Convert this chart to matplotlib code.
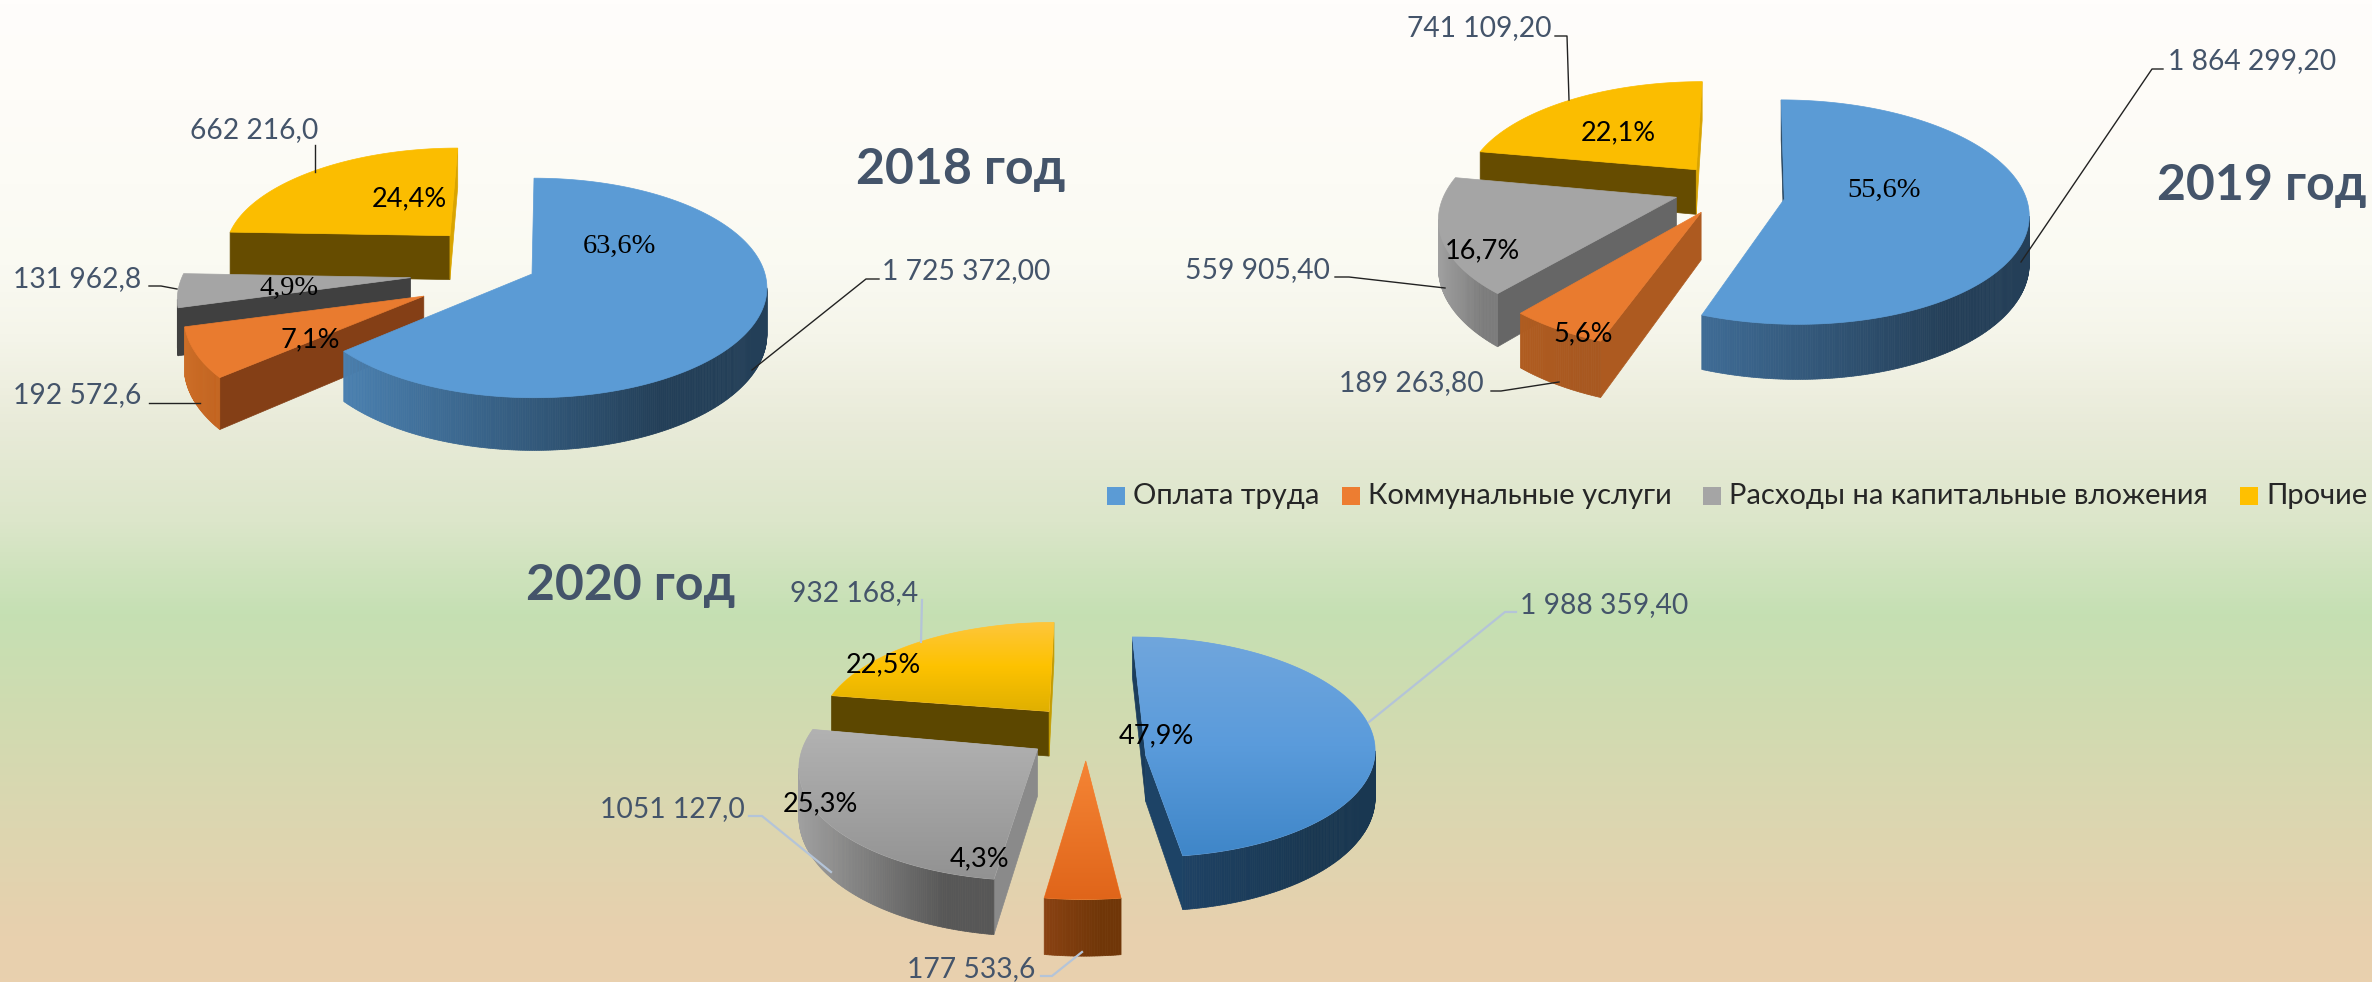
import numpy as np
import matplotlib
matplotlib.use("Agg")
import matplotlib.pyplot as plt
from matplotlib.colors import LinearSegmentedColormap, to_rgb
from matplotlib.patches import Polygon, Rectangle

plt.rcParams['font.family'] = ['Lato', 'DejaVu Sans']

categories = ["Оплата труда", "Коммунальные услуги", "Расходы на капитальные вложения", "Прочие"]

values_2018 = [1725372.0, 192572.6, 131962.8, 662216.0]
values_2019 = [1864299.2, 189263.8, 559905.4, 741109.2]
values_2020 = [1988359.4, 177533.6, 1051127.0, 932168.4]

labels_2018 = ["1 725 372,00", "192 572,6", "131 962,8", "662 216,0"]
labels_2019 = ["1 864 299,20", "189 263,80", "559 905,40", "741 109,20"]
labels_2020 = ["1 988 359,40", "177 533,6", "1051 127,0", "932 168,4"]

TEXT_COL = "#44546a"
LEGEND_COL = ["#5b9bd5", "#ed7d31", "#a5a5a5", "#ffc000"]

# chart layout: centre, radii, perspective, thickness, explosion of each slice
charts = [
    dict(values=values_2018, labels=labels_2018, title="2018 год", title_xy=(961, 169),
         c=(532, 274), a=231, b=108, p=0.127, depth=46, explode=[0, 0.515, 0.525, 0.53],
         nudge=[(2, 0), (3, -6), (4, -3), (-2, 1)],
         apex_nudge=[(-2, 0), (-3, 1), (-4, 0), (1, 0)],
         label_xy=[(966, 271), (77, 395), (77, 279), (254, 130)],
         leaders=[[(879, 279), (866, 279), (752, 370)], [(149, 403), (200, 403)],
                  [(149, 286), (161, 286), (177, 289)], [(315, 145), (315, 172)]],
         pct_xy=[(619, 246), (310, 340), (289, 288), (409, 199)],
         pct_font=["Liberation Serif", "Lato", "Liberation Serif", "Lato"],
         leader_col="#222222", leader_w=1.0,
         face=[["#5b9bd5"], ["#e97b2f"], ["#a5a5a5"], ["#fbbd00"]],
         rim=[("#4a80b0", "#233f58"), ("#cc6e28", "#c4641f"), ("#404040", "#404040"), ("#d9a400", "#d9a400")],
         rad_start=["#223f58", "#843f16", "#404040", "#664c00"],
         rad_end=["#223f58", "#843f16", "#404040", "#d9a400"]),
    dict(values=values_2019, labels=labels_2019, title="2019 год", title_xy=(2262, 185),
         c=(1732, 190), a=235, b=108, p=0.159, depth=46, explode=[0.22, 0.252, 0.252, 0.252],
         nudge=[(5, 0), (4, -2), (6, -2), (2, 0)],
         apex_nudge=[(-4, 5), (-4, 0), (-5, 0), (-1, 0)],
         label_xy=[(2252, 61), (1411, 383), (1257, 270), (1479, 28)],
         leaders=[[(2163, 69), (2152, 69), (2021, 262)], [(1491, 391), (1501, 391), (1559, 382)],
                  [(1335, 277), (1349, 277), (1445, 288)], [(1555, 36), (1567, 36), (1569, 100)]],
         pct_xy=[(1884, 190), (1583, 334), (1482, 251), (1618, 133)],
         pct_font=["Liberation Serif", "Lato", "Lato", "Lato"],
         leader_col="#222222", leader_w=1.0,
         face=[["#5b9bd5"], ["#e97b2f"], ["#a5a5a5"], ["#fbbd00"]],
         rim=[("#3f6c96", "#243f58"), ("#b05c20", "#a85820"), ("#a0a0a0", "#7c7c7c"), ("#d9a400", "#d9a400")],
         rad_start=["#223f58", "#ad5a20", "#666666", "#664c00"],
         rad_end=["#223f58", "#ad5a20", "#666666", "#d9a400"]),
    dict(values=values_2020, labels=labels_2020, title="2020 год", title_xy=(631, 586),
         c=(1087, 732), a=233, b=108, p=0.15, depth=46, explode=[0.21, 0.258, 0.258, 0.258],
         nudge=[(3, 0), (-3, 0), (4, -2), (0, 0)],
         apex_nudge=[(7, 25), (2, 0), (-4, 2), (0, 0)],
         label_xy=[(1604, 605), (971, 969), (672, 809), (854, 593)],
         leaders=[[(1516, 612), (1505, 612), (1369, 722)], [(1041, 976), (1052, 976), (1082, 952)],
                  [(749, 816), (762, 816), (831, 872)], [(922, 600), (921, 642)]],
         pct_xy=[(1156, 736), (980, 859), (820, 804), (883, 665)],
         pct_font=["Lato", "Lato", "Lato", "Lato"],
         leader_col="#b4c4d8", leader_w=1.6,
         face=[["#70a6dd", "#5a9bdb", "#3f86c8"], ["#f58535", "#e0651a"], ["#b2b2b2", "#929292"],
               ["#fec63c", "#fdc200", "#e0b000"]],
         rim=[("#20466c", "#193751"), ("#8a4212", "#703608"), ("#a0a0a0", "#575757"), ("#d9a400", "#d9a400")],
         rad_start=["#1b3d5c", "#8a4212", "#8a8a8a", "#5c4700"],
         rad_end=["#1d4366", "#8a4212", "#8a8a8a", "#c49c00"]),
]

fig = plt.figure(figsize=(23.72, 9.82), dpi=100)
ax = fig.add_axes([0, 0, 1, 1])
ax.axis("off")

# background
bg = LinearSegmentedColormap.from_list("bg", [
    (0.0, "#fffdfb"), (0.10, "#fefcf8"), (0.27, "#fafaf2"), (0.34, "#f5f5ea"), (0.43, "#e9ebd9"),
    (0.53, "#dce6ca"), (0.625, "#c5e0b3"), (0.735, "#d1dbb0"), (0.845, "#ddd6b0"), (0.955, "#e8d0ae"),
    (1.0, "#e9d0ae")])
ax.imshow(np.linspace(0, 1, 982).reshape(-1, 1), cmap=bg, extent=(0, 2372, 982, 0), aspect="auto", zorder=0)


def mix(c1, c2, t):
    c1, c2 = np.array(to_rgb(c1)), np.array(to_rgb(c2))
    return tuple(c1 + (c2 - c1) * t)


def draw_slice(ch, i, start, sweep, z):
    cx, cy = ch["c"]
    a, b, p, depth = ch["a"], ch["b"], ch["p"], ch["depth"]
    mid = np.radians(start - sweep / 2)
    eu, ev = ch["explode"][i] * np.cos(mid), ch["explode"][i] * np.sin(mid)
    th = np.radians(np.linspace(start, start - sweep, max(int(sweep), 4) * 2))
    u = np.r_[eu, eu + np.cos(th)]
    v = np.r_[ev, ev + np.sin(th)]
    den = 1 + p * v
    x = cx + a * u / den + ch["nudge"][i][0]
    y = cy - b * v / den + ch["nudge"][i][1]
    dy = depth / den
    x[0] += ch["apex_nudge"][i][0]
    y[0] += ch["apex_nudge"][i][1]

    rim_x = x[1:]
    x0, x1 = rim_x.min(), rim_x.min() + 0.75 * (rim_x.max() - rim_x.min())
    n = len(x)
    for k in range(n):
        j = (k + 1) % n
        if x[j] >= x[k]:
            continue
        if k == 0:
            col = ch["rad_start"][i]
        elif j == 0:
            col = ch["rad_end"][i]
        else:
            t = np.clip((x[k] - x0) / max(x1 - x0, 1), 0, 1)
            col = mix(ch["rim"][i][0], ch["rim"][i][1], t)
        ax.add_patch(Polygon([(x[k], y[k]), (x[j], y[j]), (x[j], y[j] + dy[j]), (x[k], y[k] + dy[k])],
                             closed=True, fc=col, ec=col, lw=0.5, zorder=z))

    stops = ch["face"][i]
    top = Polygon(np.c_[x, y], closed=True, fc=stops[0], ec=stops[0], lw=0.5, zorder=z + 0.5)
    ax.add_patch(top)
    if len(stops) > 1:
        cmap = LinearSegmentedColormap.from_list("f", stops)
        im = ax.imshow(np.linspace(0, 1, 256).reshape(-1, 1), cmap=cmap, aspect="auto",
                       extent=(x.min(), x.max(), y.max(), y.min()), zorder=z + 0.6)
        im.set_clip_path(top)


# back to front: Прочие, капвложения, коммунальные, оплата труда
for ch in charts:
    vals = np.array(ch["values"])
    sweeps = vals / vals.sum() * 360
    starts = 90 - np.r_[0, np.cumsum(sweeps)[:-1]]
    for i in [3, 2, 1, 0]:
        draw_slice(ch, i, starts[i], sweeps[i], 5 - i)

    pct = vals / vals.sum() * 100
    for i in range(4):
        size = 20.5 if ch["pct_font"][i] == "Liberation Serif" else 19.5
        ax.text(*ch["pct_xy"][i], f"{pct[i]:.1f}%".replace(".", ","), ha="center", va="center",
                fontsize=size, color="black", family=[ch["pct_font"][i], "DejaVu Sans"], zorder=20)
        ax.text(*ch["label_xy"][i], ch["labels"][i], ha="center", va="center",
                fontsize=20.3, color=TEXT_COL, zorder=20)
        xs, ys = zip(*ch["leaders"][i])
        ax.plot(xs, ys, color=ch["leader_col"], lw=ch["leader_w"], zorder=19)
    ax.text(*ch["title_xy"], ch["title"], ha="center", va="center", fontsize=36,
            fontweight="bold", color=TEXT_COL, zorder=20)

# legend
square_x = [1107, 1342, 1703, 2240]
for i, name in enumerate(categories):
    ax.add_patch(Rectangle((square_x[i], 487), 18, 18, fc=LEGEND_COL[i], ec="none", zorder=20))
    ax.text(square_x[i] + 26, 496, name, ha="left", va="center", fontsize=21, color="#262626", zorder=20)

ax.set_xlim(0, 2372)
ax.set_ylim(982, 0)
fig.savefig("out.png", dpi=100)
